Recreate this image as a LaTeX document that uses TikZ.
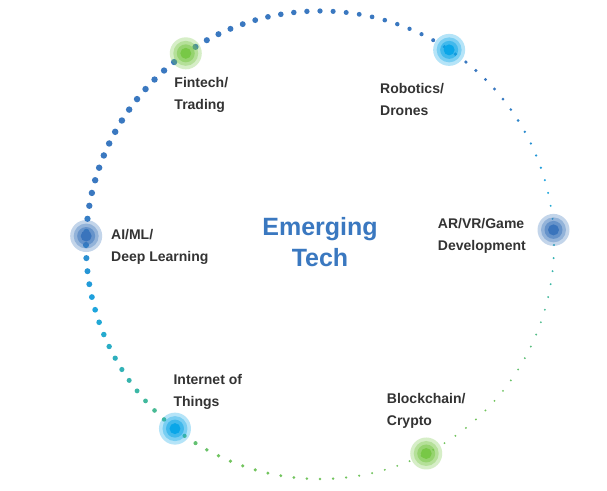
\documentclass[tikz,border=0pt]{standalone}
\usepackage{fontspec}
\setmainfont{Liberation Sans}
\usepackage{xcolor}
\usepackage{tikz}
\usetikzlibrary{positioning}

\definecolor{dotblue}{HTML}{3A78C0}
\definecolor{dotcyan}{HTML}{1BA4E0}
\definecolor{dotteal}{HTML}{3DB8A2}
\definecolor{dotgreen}{HTML}{72C45E}
\definecolor{hubblue}{HTML}{3A74BC}
\definecolor{hubcyan}{HTML}{0AA6E8}
\definecolor{hubgreen}{HTML}{78C846}
\definecolor{labelgray}{HTML}{333333}

\newcommand\setdotcolor[1]{%
  \ifdim#1pt<15pt \pgfmathsetmacro\dmix{(#1+10)*4}\edef\dc{dotcyan!\dmix!dotteal}%
  \else\ifdim#1pt<40pt \pgfmathsetmacro\dmix{(#1-15)*4}\edef\dc{dotblue!\dmix!dotcyan}%
  \else\ifdim#1pt<170pt \def\dc{dotblue}%
  \else\ifdim#1pt<195pt \pgfmathsetmacro\dmix{(#1-170)*4}\edef\dc{dotcyan!\dmix!dotblue}%
  \else\ifdim#1pt<220pt \pgfmathsetmacro\dmix{(#1-195)*4}\edef\dc{dotteal!\dmix!dotcyan}%
  \else\ifdim#1pt<245pt \pgfmathsetmacro\dmix{(#1-220)*4}\edef\dc{dotgreen!\dmix!dotteal}%
  \else\ifdim#1pt<320pt \def\dc{dotgreen}%
  \else\ifdim#1pt<350pt \pgfmathsetmacro\dmix{(#1-320)*10/3}\edef\dc{dotteal!\dmix!dotgreen}%
  \else \pgfmathsetmacro\dmix{(#1-350)*4}\edef\dc{dotcyan!\dmix!dotteal}%
  \fi\fi\fi\fi\fi\fi\fi\fi}

\begin{document}
\begin{tikzpicture}[
  x=1pt, y=1pt,
  hub/.style={circle, minimum size=32pt, inner sep=0pt, fill opacity=0.3},
  lbl/.style={font=\fontsize{14}{22}\selectfont\bfseries, text=labelgray, align=left, anchor=base west, inner sep=0pt},
  title/.style={font=\fontsize{25}{30.5}\selectfont\bfseries, text=dotblue, align=center, anchor=base, inner sep=0pt}
]
  \useasboundingbox[fill=white] (0,0) rectangle (607,490);
  \coordinate (c) at (320,245);

  % dotted ring
  \foreach \k in {0,...,111}{
    \pgfmathsetmacro\ang{mod(90+\k*(360/112),360)}
    \pgfmathsetmacro\rad{max(1.05,2.0+1.25*cos(\ang-150))}
    \setdotcolor{\ang}
    \fill[\dc] ([shift={(\ang:234)}]c) circle (\rad pt);
  }

  % hubs
  \foreach \n/\a/\col in {fin/125/hubgreen, rob/56.5/hubcyan, arvr/3.7/hubblue,
                          blk/-63/hubgreen, iot/-128.3/hubcyan, ai/177.8/hubblue}{
    \node[hub, fill=\col] (\n) at ([shift={(\a:234)}]c) {};
    \fill[\col, opacity=0.35] (\n) circle (12.5pt);
    \fill[\col, opacity=0.5] (\n) circle (9pt);
    \fill[\col] (\n) circle (5.5pt);
  }

  \node[title] (ttl) at (320,223.8) {Emerging\\Tech};

  \node[lbl] (finlbl)  at ([shift={(-11.5,-56)}]fin)   {Fintech/\\Trading};
  \node[lbl] (roblbl)  at ([shift={(-69.2,-66.1)}]rob) {Robotics/\\Drones};
  \node[lbl] (arvrlbl) at ([shift={(-115.8,-20.4)}]arvr) {AR/VR/Game\\Development};
  \node[lbl] (blklbl)  at ([shift={(-39.5,27.5)}]blk)  {Blockchain/\\Crypto};
  \node[lbl] (iotlbl)  at ([shift={(-1.6,22.3)}]iot)   {Internet of\\Things};
  \node[lbl] (ailbl)   at ([shift={(24.8,-25)}]ai)     {AI/ML/\\Deep Learning};
\end{tikzpicture}
\end{document}
